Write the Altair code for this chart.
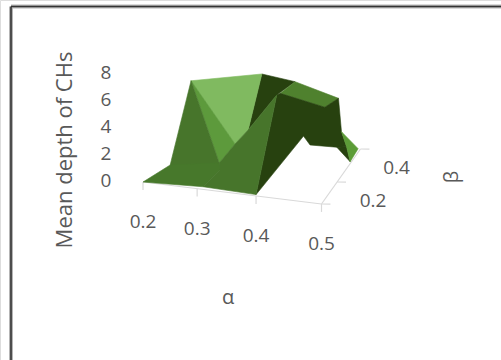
import altair as alt
import pandas as pd

# Surface corners: name, alpha, beta, mean depth
corner_names = list("ABCDEFGHIJKLMOPQRSTUVW")
corner_alpha = [0.200, 0.226, 0.248, 0.367, 0.390, 0.463, 0.440, 0.398, 0.392, 0.344, 0.322, 0.297,
                0.308, 0.301, 0.390, 0.437, 0.448, 0.493, 0.493, 0.499, 0.496, 0.468]
corner_beta = [0.00, 0.12, 0.20, 0.20, 0.40, 0.40, 0.40, 0.20, 0.20, 0.20, 0.20, 0.19,
               0.13, 0.00, 0.00, 0.20, 0.20, 0.20, 0.30, 0.30, 0.40, 0.40]
corner_depth = [0.00, 0.18, 5.83, 7.00, 4.47, 3.62, 2.82, 5.71, 5.55, 2.65, 1.47, 0.00,
                0.15, 0.20, 0.10, 2.70, 2.09, 2.17, 1.17, 0.07, 0.00, 1.13]

# Facets from back to front, each listed by its corners
facet_corners = ["DEIJ", "EFGH", "IHGFWTSRQP", "SUT", "WVUT", "CDJK", "CKL", "CLMB", "ABLMO", "IPOMLKJ"]
facet_shades = ["#27410f", "#4f812e", "#27410f", "#27410f", "#5c9c37", "#80ba60", "#5d9a3c",
                "#47752b", "#47782b", "#47752b"]

alpha_ticks = [0.2, 0.291, 0.39, 0.5]
alpha_labels = ["0.2", "0.3", "0.4", "0.5"]
beta_ticks = [0.0, 0.16, 0.4]
beta_labels = ["", "0.2", "0.4"]
depth_ticks = [0, 2, 4, 6, 8]

GREY = "#595959"
FONT = "Open Sans"


def screen_x(alpha, beta):
    return 143 + 595 * (alpha - 0.2) + 97.5 * beta


def screen_y(alpha, beta, depth=0.0):
    return 182 + 73.3 * (alpha - 0.2) - 137.5 * beta - 13.25 * depth


corners = {
    n: (screen_x(a, b), screen_y(a, b, d))
    for n, a, b, d in zip(corner_names, corner_alpha, corner_beta, corner_depth)
}

surface_rows = []
for i, (facet, shade) in enumerate(zip(facet_corners, facet_shades)):
    for k, name in enumerate(facet):
        surface_rows.append({"facet": i, "k": k, "px": corners[name][0], "py": corners[name][1], "shade": shade})
surface = pd.DataFrame(surface_rows)

x_scale = alt.Scale(domain=[0, 501], range=[0, 501], nice=False, zero=False)
y_scale = alt.Scale(domain=[0, 360], range=[0, 360], nice=False, zero=False)
X = alt.X("px:Q", scale=x_scale, axis=None)
Y = alt.Y("py:Q", scale=y_scale, axis=None)
X2 = alt.X2("px2:Q")
Y2 = alt.Y2("py2:Q")

facets = (
    alt.Chart(surface)
    .mark_line(strokeWidth=0.6, interpolate="linear-closed", strokeJoin="round")
    .encode(
        x=X,
        y=Y,
        order="k:Q",
        detail="facet:N",
        fill=alt.Fill("shade:N", scale=None, legend=None),
        stroke=alt.Stroke("shade:N", scale=None, legend=None),
    )
)

# Floor edges and tick marks
edge_rows = [
    (0.2, 0.0, 0.5, 0.0),
    (0.5, 0.0, 0.5, 0.4),
]
edges = pd.DataFrame(
    [
        {"px": screen_x(a, b), "py": screen_y(a, b), "px2": screen_x(a2, b2), "py2": screen_y(a2, b2)}
        for a, b, a2, b2 in edge_rows
    ]
    + [
        {"px": screen_x(a, 0), "py": screen_y(a, 0), "px2": screen_x(a, 0), "py2": screen_y(a, 0, -0.6)}
        for a in alpha_ticks
    ]
    + [
        {"px": screen_x(0.5, b), "py": screen_y(0.5, b), "px2": screen_x(0.515, b), "py2": screen_y(0.515, b, 0.08)}
        for b in beta_ticks
    ]
)
floor = alt.Chart(edges).mark_rule(color="#d9d9d9", strokeWidth=1.2).encode(x=X, y=Y, x2=X2, y2=Y2)

alpha_text = pd.DataFrame(
    {"px": [screen_x(a, 0) for a in alpha_ticks], "py": [screen_y(a, 0) for a in alpha_ticks], "t": alpha_labels}
)
alpha_marks = (
    alt.Chart(alpha_text)
    .mark_text(font=FONT, fontSize=19, color=GREY, dy=40)
    .encode(x=X, y=Y, text="t:N")
)

beta_text = pd.DataFrame(
    {"px": [screen_x(0.5, b) for b in beta_ticks], "py": [screen_y(0.5, b) for b in beta_ticks], "t": beta_labels}
)
beta_marks = (
    alt.Chart(beta_text)
    .mark_text(font=FONT, fontSize=19, color=GREY, dx=36, dy=19)
    .encode(x=X, y=Y, text="t:N")
)

depth_text = pd.DataFrame(
    {"px": [106] * len(depth_ticks), "py": [181 - 13.5 * d for d in depth_ticks], "t": [str(d) for d in depth_ticks]}
)
depth_marks = alt.Chart(depth_text).mark_text(font=FONT, fontSize=19, color=GREY).encode(x=X, y=Y, text="t:N")


def title(text, px, py, angle, size):
    frame = pd.DataFrame({"px": [px], "py": [py], "t": [text]})
    return (
        alt.Chart(frame)
        .mark_text(font=FONT, fontSize=size, color=GREY, angle=angle)
        .encode(x=X, y=Y, text="t:N")
    )


# Chart border: only the top and left sides are drawn
border = pd.DataFrame({"px": [11, 11], "py": [6.5, 6.5], "px2": [501, 11], "py2": [6.5, 360]})
border_soft = alt.Chart(border).mark_rule(color="#b5b5b5", strokeWidth=4).encode(x=X, y=Y, x2=X2, y2=Y2)
border_core = alt.Chart(border).mark_rule(color="#333333", strokeWidth=1.6).encode(x=X, y=Y, x2=X2, y2=Y2)

chart = (
    alt.layer(
        border_soft,
        border_core,
        floor,
        facets,
        alpha_marks,
        beta_marks,
        depth_marks,
        title("Mean depth of CHs", 65, 150, 270, 22),
        title("α", 228, 298, 0, 20),
        title("β", 452, 177, 270, 20),
    )
    .properties(width=501, height=360, padding=0)
    .configure_view(stroke=None)
    .configure(background="white", autosize=alt.AutoSizeParams(type="none"))
)

chart.save("out.html", embed_options={"renderer": "svg", "actions": False})
